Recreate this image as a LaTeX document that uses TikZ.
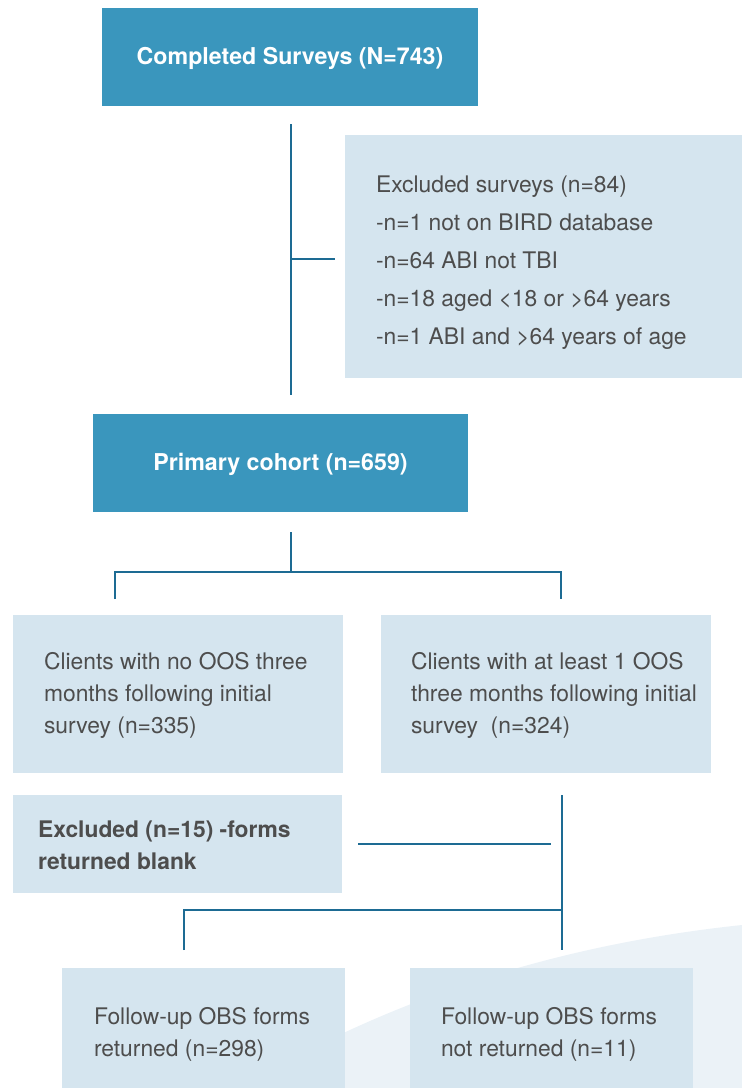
\documentclass[tikz,border=0pt]{standalone}
\usepackage{fontspec}
\setmainfont{TeX Gyre Heros}
\usepackage{tikz}
\usepackage{xcolor}
\usetikzlibrary{positioning}

\definecolor{boxdark}{HTML}{3A96BD}
\definecolor{boxlight}{HTML}{D5E5EF}
\definecolor{linecol}{HTML}{1D6B93}
\definecolor{txtgray}{HTML}{4D4D4D}
\definecolor{swooshcol}{HTML}{EBF2F7}

\begin{document}
\begin{tikzpicture}[
  x=0.02cm, y=-0.02cm,
  darkbox/.style={fill=boxdark, text=white, font=\fontsize{13.2}{15}\selectfont\bfseries,
    minimum width=7.52cm, minimum height=1.96cm, inner sep=0pt,
    text height=0.89em, text depth=0pt},
  lightbox/.style={fill=boxlight, inner sep=0pt},
  boxtext/.style={text=txtgray, align=left, anchor=west, inner sep=0pt,
    font=\fontsize{13}{18.2}\selectfont},
  conn/.style={draw=linecol, line width=1.4pt},
]
  \useasboundingbox (0,0) rectangle (742,1088);
  % background swoosh
  \fill[swooshcol] (240,1088) .. controls (420,980) and (600,940) .. (742,925) -- (742,1088) -- cycle;

  % top part
  \node[darkbox] (surv) at (290,57) {Completed Surveys (N=743)};
  \node[lightbox, minimum width=7.94cm, minimum height=4.86cm] (excl) at (543.5,256.5) {};
  \node[boxtext, font=\fontsize{13}{21.6}\selectfont] (excl-t) at ([xshift=0.62cm, yshift=-0.12cm]excl.west)
    {Excluded surveys (n=84)\\-n=1 not on BIRD database\\-n=64 ABI not TBI\\-n=18 aged <18 or >64 years\\-n=1 ABI and >64 years of age};
  \node[darkbox, minimum width=7.5cm] (cohort) at (280.5,463) {Primary cohort (n=659)};

  % clients
  \node[lightbox, minimum width=6.6cm, minimum height=3.16cm] (noos) at (178,694) {};
  \node[boxtext] (noos-t) at ([xshift=0.62cm, yshift=-0.02cm]noos.west)
    {Clients with no OOS three\\months following initial\\survey (n=335)};
  \node[lightbox, minimum width=6.6cm, minimum height=3.16cm] (oos) at (546,694) {};
  \node[boxtext] (oos-t) at ([xshift=0.6cm, yshift=-0.02cm]oos.west)
    {Clients with at least 1 OOS\\three months following initial\\survey\ \ (n=324)};

  % follow-up
  \node[lightbox, minimum width=6.58cm, minimum height=1.96cm] (blank) at (177.5,844) {};
  \node[boxtext, font=\fontsize{13}{18.2}\selectfont\bfseries] (blank-t) at ([xshift=0.5cm, yshift=-0.03cm]blank.west)
    {Excluded (n=15) -forms\\returned blank};
  \node[lightbox, minimum width=5.66cm, minimum height=2.56cm] (ret) at (203.5,1032) {};
  \node[boxtext] (ret-t) at ([xshift=0.64cm, yshift=-0.05cm]ret.west)
    {Follow-up OBS forms\\returned (n=298)};
  \node[lightbox, minimum width=5.66cm, minimum height=2.56cm] (notret) at (551.5,1032) {};
  \node[boxtext] (notret-t) at ([xshift=0.62cm, yshift=-0.05cm]notret.west)
    {Follow-up OBS forms\\not returned (n=11)};

  % connectors
  \coordinate (j0) at (291,259);
  \coordinate (j1) at (291,572);
  \coordinate (j1l) at (115,599);
  \coordinate (j1r) at (561,599);
  \coordinate (j2) at (562,910);
  \coordinate (j2b) at (562,950);
  \coordinate (j2l) at (184,950);

  \draw[conn] ([yshift=-0.36cm]surv.south -| j0) -- ([yshift=0.38cm]cohort.north -| j0);
  \draw[conn] (j0) -- ([xshift=-0.2cm]excl.west |- j0);
  \draw[conn] ([yshift=-0.4cm]cohort.south -| j1) -- (j1);
  \draw[conn] (j1l) |- (j1) -| (j1r);
  \draw[conn] ([yshift=-0.44cm]oos.south -| j2) -- (j2b);
  \draw[conn] (j2l) |- (j2);
  \draw[conn] ([xshift=0.32cm]blank.east) -- ([xshift=-0.22cm]blank.east -| j2);
\end{tikzpicture}
\end{document}
